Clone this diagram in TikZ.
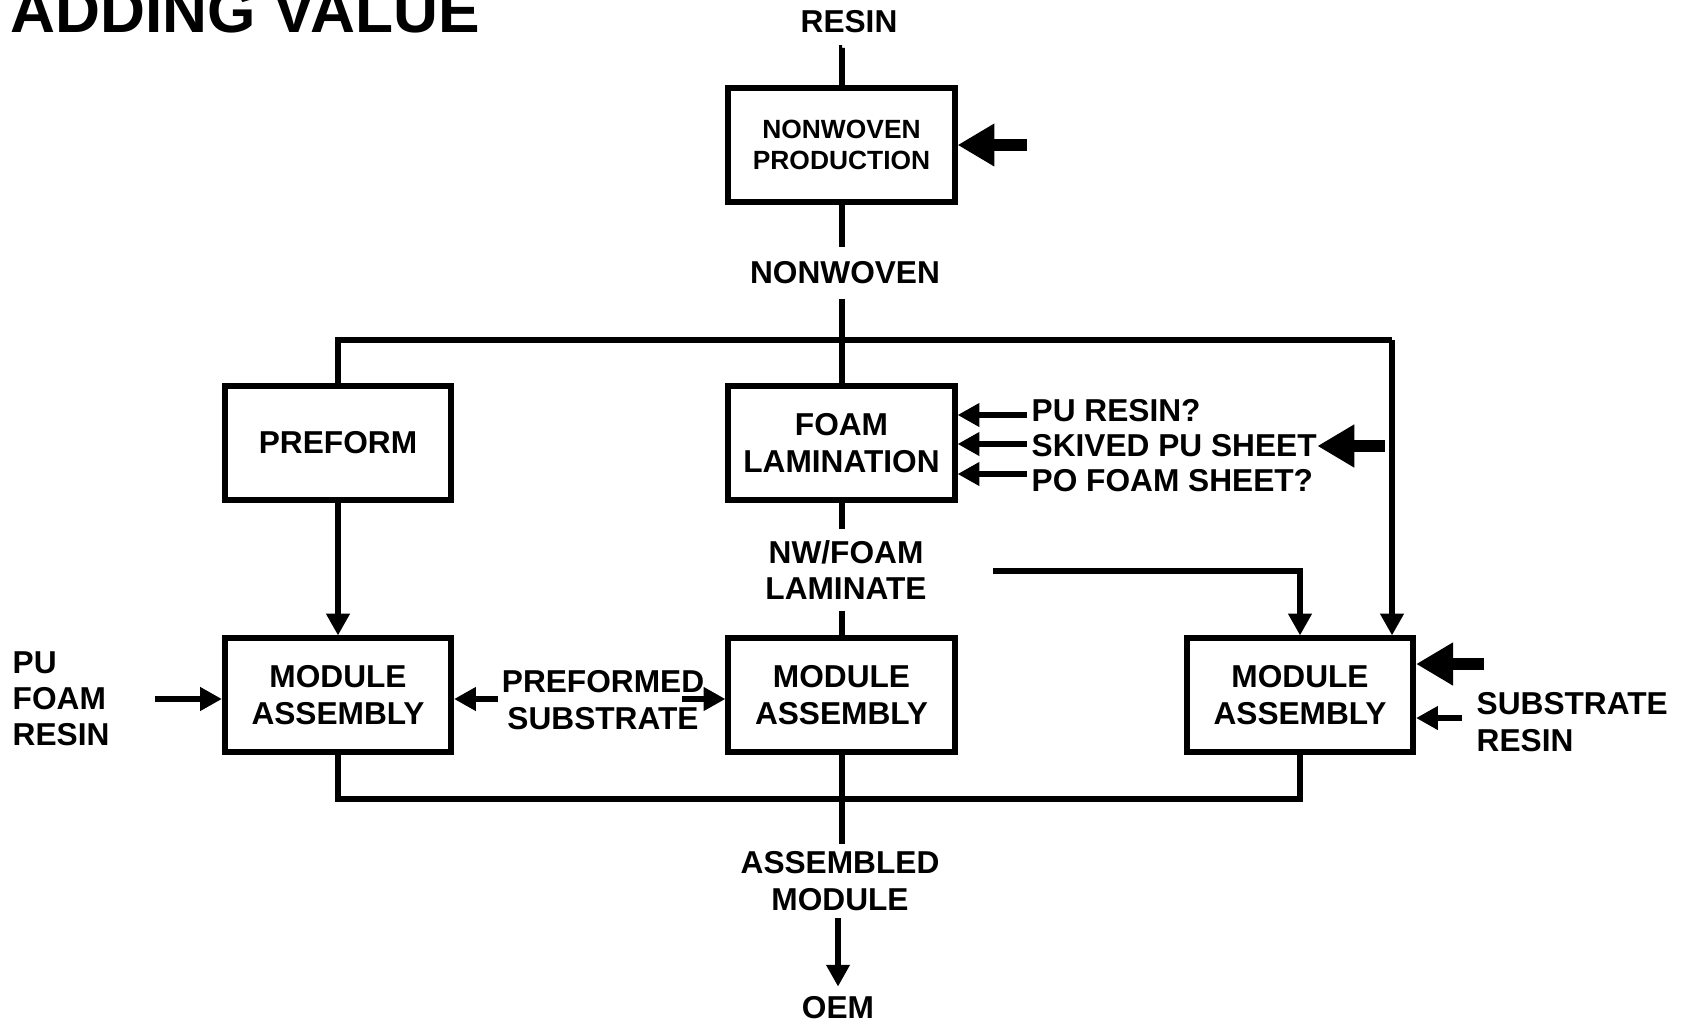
\documentclass[tikz,border=0pt]{standalone}
\usepackage{fontspec}
\setmainfont{Liberation Sans}
\usetikzlibrary{arrows.meta}

\tikzset{
  box/.style={draw, line width=1.7pt, minimum width=2.26cm, minimum height=1.13cm, align=center, inner sep=0pt, font=\fontsize{9}{10.3}\selectfont\bfseries},
  lbl/.style={align=center, inner sep=0pt, font=\fontsize{9}{10.3}\selectfont\bfseries},
  plain/.style={line width=1.7pt},
  arr/.style={line width=1.7pt, -{Triangle[length=6.2pt,width=6.4pt]}},
  bigarr/.style={line width=3.2pt, -{Triangle[length=10.5pt,width=11.5pt]}},
}

\begin{document}
\begin{tikzpicture}[x=0.01cm, y=-0.01cm]
        \useasboundingbox (0,0) rectangle (1688,1021);
        \node [anchor=base west, inner sep=0, font=\fontsize{17.7}{20}\selectfont\bfseries] (title) at (10,32) {ADDING VALUE};
        \begin{scope}[every node/.style={box}]
            \node [font=\fontsize{7.5}{8.6}\selectfont\bfseries] (nwprod) at (841.5,145) {NONWOVEN\\PRODUCTION};
            \node (preform) at (338,443) {PREFORM};
            \node (foam) at (841.5,443) {FOAM\\LAMINATION};
            \node (mod1) at (338,695) {MODULE\\ASSEMBLY};
            \node (mod2) at (841.5,695) {MODULE\\ASSEMBLY};
            \node (mod3) at (1300,695) {MODULE\\ASSEMBLY};
        \end{scope}
        \begin{scope}[every node/.style={lbl}]
            \node [inner ysep=4pt] (resin) at (849,22) {RESIN};
            \node [inner ysep=4pt] (nonwoven) at (845,273) {NONWOVEN};
            \node [inner ysep=3pt] (nwfoam) at (846,570) {NW/FOAM\\LAMINATE};
            \node (prefsub) at (603,700) {PREFORMED\\SUBSTRATE};
            \node [inner ysep=2pt] (asmod) at (840,881) {ASSEMBLED\\MODULE};
            \node (oem) at (838,1008) {OEM};
            \node [anchor=west, align=left] (pufoam) at (12,699) {PU\\FOAM\\RESIN};
            \node [anchor=west, align=left] (subres) at (1476,722) {SUBSTRATE\\RESIN};
            \node [anchor=west] (pures) at (1031,411) {PU RESIN?};
            \node [anchor=west] (skived) at (1031,446) {SKIVED PU SHEET};
            \node [anchor=west] (pofoam) at (1031,481) {PO FOAM SHEET?};
        \end{scope}
        % free ends of the feed lines
        \coordinate (split) at (841.5,340);
        \coordinate (rtop) at (1392,340);
        \coordinate (lamout) at (993,571);
        \coordinate (bot) at (841.5,799);
        \coordinate (nwin) at (1027,145);
        \coordinate (skin) at (1385,446);
        \coordinate (m3in) at (1484,664);
        \coordinate (m3res) at (1462,718);
        \coordinate (pfin) at (155,699);
        \coordinate (psl) at (498,699);
        \coordinate (psr) at (682,699);
        \begin{scope}[every path/.style={plain}]
            \draw (resin) -- (resin.south -| nwprod.north) -- (nwprod.north);
            \draw (nwprod.south) -- (nwprod.south |- nonwoven.north);
            \draw (nonwoven.south -| split) -- (foam.north);
            \draw (preform.north) |- (rtop);
            \draw (foam.south) -- (foam.south |- nwfoam.north);
            \draw (mod2.north |- nwfoam.south) -- (mod2.north);
            \draw (mod1.south) |- (bot) -| (mod3.south);
            \draw (mod2.south) -- (mod2.south |- asmod.north);
        \end{scope}
        \begin{scope}[every path/.style={arr}]
            \path (preform) edge (mod1);
            \path (rtop) edge (rtop |- mod3.north);
            \draw (lamout) -| (mod3.north);
            \path (pfin) edge (mod1.west |- pfin);
            \path (psl) edge (mod1.east |- psl);
            \path (psr) edge (mod2.west |- psr);
            \path (m3res) edge (m3res -| mod3.east);
            \path (asmod.south -| oem) edge ([yshift=2.7pt]oem.north);
            \path ([xshift=-1pt]pures.west |- 0,415) edge (foam.east |- 0,415);
            \path ([xshift=-1pt]skived.west |- 0,444) edge (foam.east |- 0,444);
            \path ([xshift=-1pt]pofoam.west |- 0,474) edge (foam.east |- 0,474);
        \end{scope}
        \begin{scope}[every path/.style={bigarr}]
            \path (nwin) edge (nwprod.east |- nwin);
            \path (skin) edge (skived.east);
            \path (m3in) edge (mod3.east |- m3in);
        \end{scope}
\end{tikzpicture}
\end{document}
